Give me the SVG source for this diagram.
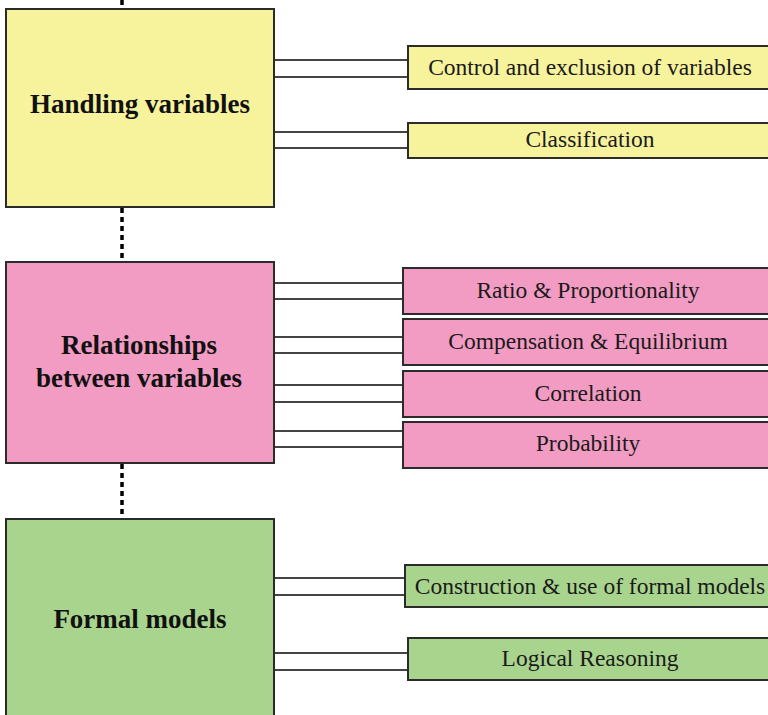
<svg xmlns="http://www.w3.org/2000/svg" width="768" height="715" viewBox="0 0 768 715">
<style>
.box{stroke:#2b2b2b;stroke-width:2}
.y{fill:#F7F29C}
.p{fill:#F29BC3}
.g{fill:#A9D48D}
.h{font-family:"Liberation Serif","Times New Roman",serif;font-weight:bold;font-size:27px;fill:#111;text-anchor:middle}
.t{font-family:"Liberation Serif","Times New Roman",serif;font-size:23.5px;fill:#1a1a1a;text-anchor:middle}
.c{stroke:#444;stroke-width:2;fill:none}
.d{stroke:#000;stroke-width:3.5;stroke-dasharray:5 4;fill:none}
</style>
<rect width="768" height="715" fill="#fff"/>
<g id="connectors">
<line class="d" x1="122" y1="0" x2="122" y2="8"/>
<line class="d" x1="122" y1="208" x2="122" y2="262"/>
<line class="d" x1="122" y1="464" x2="122" y2="520"/>
<line class="c" x1="274" y1="60" x2="408" y2="60"/>
<line class="c" x1="274" y1="77" x2="408" y2="77"/>
<line class="c" x1="274" y1="132" x2="408" y2="132"/>
<line class="c" x1="274" y1="148" x2="408" y2="148"/>
<line class="c" x1="274" y1="283" x2="403" y2="283"/>
<line class="c" x1="274" y1="299" x2="403" y2="299"/>
<line class="c" x1="274" y1="337" x2="403" y2="337"/>
<line class="c" x1="274" y1="353" x2="403" y2="353"/>
<line class="c" x1="274" y1="385" x2="403" y2="385"/>
<line class="c" x1="274" y1="402" x2="403" y2="402"/>
<line class="c" x1="274" y1="431" x2="403" y2="431"/>
<line class="c" x1="274" y1="447" x2="403" y2="447"/>
<line class="c" x1="274" y1="578" x2="405" y2="578"/>
<line class="c" x1="274" y1="595" x2="405" y2="595"/>
<line class="c" x1="274" y1="653" x2="408" y2="653"/>
<line class="c" x1="274" y1="670" x2="408" y2="670"/>
</g>
<g id="handling">
<rect class="box y" x="6" y="9" width="268" height="198"/>
<text class="h" x="140" y="113">Handling variables</text>
</g>
<g id="control">
<rect class="box y" x="408" y="46" width="370" height="43"/>
<text class="t" x="590" y="75">Control and exclusion of variables</text>
</g>
<g id="classification">
<rect class="box y" x="408" y="123" width="370" height="35"/>
<text class="t" x="590" y="147">Classification</text>
</g>
<g id="relationships">
<rect class="box p" x="6" y="262" width="268" height="201"/>
<text class="h" x="139" y="354">Relationships</text>
<text class="h" x="139" y="387">between variables</text>
</g>
<g id="ratio">
<rect class="box p" x="403" y="268" width="375" height="46"/>
<text class="t" x="588" y="298">Ratio &amp; Proportionality</text>
</g>
<g id="compensation">
<rect class="box p" x="403" y="319" width="375" height="46"/>
<text class="t" x="588" y="349">Compensation &amp; Equilibrium</text>
</g>
<g id="correlation">
<rect class="box p" x="403" y="371" width="375" height="46"/>
<text class="t" x="588" y="401">Correlation</text>
</g>
<g id="probability">
<rect class="box p" x="403" y="422" width="375" height="46"/>
<text class="t" x="588" y="451">Probability</text>
</g>
<g id="formal">
<rect class="box g" x="6" y="519" width="268" height="210"/>
<text class="h" x="140" y="628">Formal models</text>
</g>
<g id="construction">
<rect class="box g" x="405" y="565" width="373" height="42"/>
<text class="t" x="590" y="594">Construction &amp; use of formal models</text>
</g>
<g id="logical">
<rect class="box g" x="408" y="638" width="370" height="42"/>
<text class="t" x="590" y="666">Logical Reasoning</text>
</g>
</svg>
